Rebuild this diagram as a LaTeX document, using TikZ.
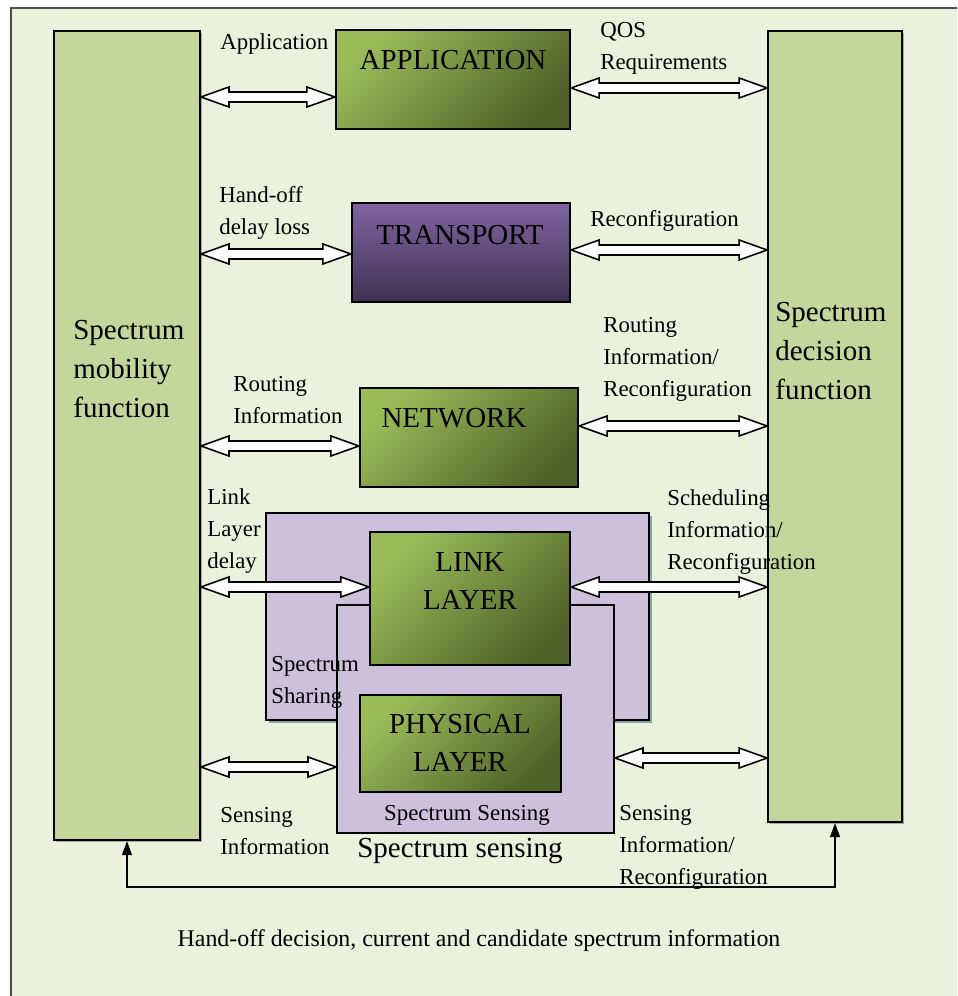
\documentclass[tikz,border=0pt]{standalone}
\usepackage{fontspec}
\setmainfont{Liberation Serif}
\usetikzlibrary{calc, fit, shadows, arrows.meta}

\definecolor{paper}{HTML}{EAF1DD}
\definecolor{colfill}{HTML}{C3D69B}
\definecolor{lilac}{HTML}{CCC0DA}
\definecolor{gtop}{HTML}{9BBB59}
\definecolor{gbot}{HTML}{4F6228}
\definecolor{ptop}{HTML}{8064A2}
\definecolor{pbot}{HTML}{3F3151}
\definecolor{tealshade}{HTML}{86A5A5}

% white two-headed block arrow between two points on one row
\newcommand{\duplex}[2]{%
  \path (#1) coordinate (tipL) (#2) coordinate (tipR);
  \draw[fat arrow] (tipL) -- ++(28,-10) -- ++(0,5) -- ($(tipR)+(-28,-5)$)
    -- ++(0,-5) -- (tipR) -- ++(-28,10) -- ++(0,-5) -- ($(tipL)+(28,5)$)
    -- ++(0,5) -- cycle;
}

\begin{document}
\begin{tikzpicture}[
    x=0.02cm, y=-0.02cm,
    >={Triangle[length=8pt,width=5.5pt]},
    column/.style={draw, line width=1.1pt, fill=colfill, inner sep=0pt,
        drop shadow={shadow xshift=1.2pt, shadow yshift=-1.2pt, fill=black!35, opacity=1}},
    greenbox/.style={draw, line width=1.3pt, inner sep=0pt, top color=gtop, bottom color=gbot, shading angle=45},
    purplebox/.style={greenbox, top color=ptop, bottom color=pbot},
    lilacbox/.style={draw, line width=1.1pt, fill=lilac, inner sep=0pt},
    fat arrow/.style={draw, line width=0.9pt, fill=white, line join=miter},
    small/.style={font=\fontsize{13}{18.2}\selectfont, inner sep=0pt, align=left},
    big/.style={font=\fontsize{16.5}{22}\selectfont, inner sep=0pt, align=center}
]

\clip (0,0) rectangle (957,996);
\draw[line width=1.2pt, draw=black!70, fill=paper] (11,8) rectangle (990,1020);

% Functions
\node[column, fit={(54,31) (200,840)}] (mob) {};
\node[column, fit={(768,31) (902,822)}] (dec) {};
\node[big, align=left, anchor=west] (mobtxt) at (73,369) {Spectrum\\mobility\\function};
\node[big, align=left, anchor=west] (dectxt) at (775,351) {Spectrum\\decision\\function};

% Spectrum blocks
\node[lilacbox, fit={(266,513) (649,720)},
    drop shadow={shadow xshift=1.8pt, shadow yshift=-1.8pt, fill=tealshade, opacity=1}] (share) {};
\node[lilacbox, fit={(337,605) (614,833)}] (sense) {};

% Layers
\node[greenbox, fit={(336,30) (570,129)}] (app) {};
\node[purplebox, fit={(352,203) (570,302)}] (tra) {};
\node[greenbox, fit={(360,388) (578,487)}] (net) {};
\node[greenbox, fit={(370,532) (570,665)}] (link) {};
\node[greenbox, fit={(360,695) (561,792)}] (phy) {};

\node[big] (apptxt) at (453,60) {APPLICATION};
\node[big] (tratxt) at (460,235) {TRANSPORT};
\node[big] (nettxt) at (454,418) {NETWORK};
\node[big] (linktxt) at (470,581) {LINK\\LAYER};
\node[big] (phytxt) at (460,743) {PHYSICAL\\LAYER};

% Rows of the block arrows
\coordinate (r1) at (0,97);
\coordinate (q1) at (0,88);
\coordinate (r2) at (0,254);
\coordinate (q2) at (0,250);
\coordinate (r3) at (0,446);
\coordinate (q3) at (0,426);
\coordinate (r4) at (0,587);
\coordinate (r5) at (0,767);
\coordinate (q5) at (0,758);

\duplex{mob.east |- r1}{app.west |- r1}
\duplex{app.east |- q1}{dec.west |- q1}
\duplex{mob.east |- r2}{tra.west |- r2}
\duplex{tra.east |- q2}{dec.west |- q2}
\duplex{mob.east |- r3}{net.west |- r3}
\duplex{net.east |- q3}{dec.west |- q3}
\duplex{mob.east |- r4}{link.west |- r4}
\duplex{link.east |- r4}{dec.west |- r4}
\duplex{mob.east |- r5}{sense.west |- r5}
\duplex{sense.east |- q5}{dec.west |- q5}

% Labels
\node[small, anchor=west] (l1) at (220,44) {Application};
\node[small, anchor=west] (l2) at (600,48.5) {QOS\\Requirements};
\node[small, anchor=west] (l3) at (219,212.5) {Hand-off\\delay loss};
\node[small, anchor=west] (l4) at (590,221) {Reconfiguration};
\node[small, anchor=west] (l5) at (233,400) {Routing\\Information};
\node[small, anchor=west] (l6) at (603,359.5) {Routing\\Information/\\Reconfiguration};
\node[small, anchor=west] (l7) at (207,531) {Link\\Layer\\delay};
\node[small, anchor=west] (l8) at (667,532.5) {Scheduling\\Information/\\Reconfiguration};
\node[small, anchor=west] (l9) at (271,682.5) {Spectrum\\Sharing};
\node[small, anchor=west] (l10) at (220,831) {Sensing\\Information};
\node[small, anchor=west] (l11) at (619,847.5) {Sensing\\Information/\\Reconfiguration};
\node[small] (l12) at (467,815) {Spectrum Sensing};
\node[big] (l13) at (460,851) {Spectrum sensing};
\node[small, font=\fontsize{13.6}{18.2}\selectfont] (l14) at (479,941) {Hand-off decision, current and candidate spectrum information};

% Feedback
\coordinate (fb) at (480,887);
\draw[<->, line width=1.1pt] (mob.south) |- (fb) -| (dec.south);

\end{tikzpicture}
\end{document}
